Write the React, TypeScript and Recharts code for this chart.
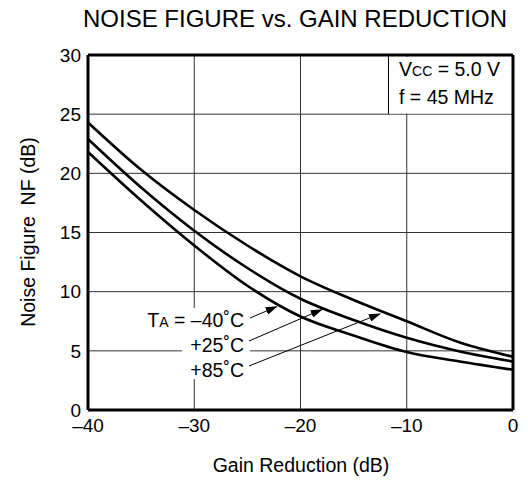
import React from "react";
import { LineChart, Line, XAxis, YAxis, CartesianGrid, ReferenceLine } from "recharts";

// ---- data ----
const gainReduction = [-40, -35, -30, -25, -20, -15, -10, -5, 0];
const nfPlus85 = [24.3, 20.3, 16.9, 13.9, 11.3, 9.3, 7.5, 5.7, 4.5];
const nfPlus25 = [22.9, 18.8, 15.15, 12.0, 9.4, 7.6, 6.1, 4.95, 4.1];
const nfMinus40 = [21.8, 17.7, 13.9, 10.5, 7.9, 6.3, 4.9, 4.1, 3.4];
const xTicks = [-40, -30, -20, -10, 0];
const yTicks = [0, 5, 10, 15, 20, 25, 30];
// arrow tips (data coordinates on each curve)
const arrowTips = [
  { label: "-40", x: -22.24, y: 8.73 },
  { label: "+25", x: -18.0, y: 8.49 },
  { label: "+85", x: -12.52, y: 8.13 },
];

const data = gainReduction.map((g, i) => ({
  g,
  p85: nfPlus85[i],
  p25: nfPlus25[i],
  m40: nfMinus40[i],
}));

const W = 528;
const H = 481;
const LEFT = 88;
const RIGHT = 513;
const TOP = 55;
const BOTTOM = 410;
const FONT = "'Liberation Sans', Arial, sans-serif";

const sx = (v: number) => LEFT + ((v + 40) / 40) * (RIGHT - LEFT);
const sy = (v: number) => BOTTOM - (v / 30) * (BOTTOM - TOP);

const fmt = (v: number) => String(v).replace("-", "\u2013");

export default function App() {
  const arrowStarts = [
    { x: 250, y: 318 },
    { x: 249, y: 341 },
    { x: 249, y: 366 },
  ];
  return (
    <div style={{ position: "absolute", left: 0, top: 0, width: W, height: H, background: "#fff" }}>
      <LineChart
        width={W}
        height={H}
        data={data}
        margin={{ top: TOP, right: W - RIGHT, bottom: 0, left: 0 }}
      >
        <CartesianGrid stroke="#333" strokeWidth={1} />
        <XAxis
          dataKey="g"
          type="number"
          domain={[-40, 0]}
          ticks={xTicks}
          tickFormatter={fmt}
          height={H - BOTTOM}
          axisLine={false}
          tickLine={false}
          tickSize={6}
          tickMargin={3}
          interval={0}
          tick={{ fill: "#000", fontSize: 19, fontFamily: FONT }}
        />
        <YAxis
          type="number"
          domain={[0, 30]}
          ticks={yTicks}
          width={LEFT}
          axisLine={false}
          tickLine={false}
          tickSize={6}
          tickMargin={1}
          interval={0}
          tick={{ fill: "#000", fontSize: 19, fontFamily: FONT }}
        />
        <Line type="monotone" dataKey="p85" stroke="#000" strokeWidth={2.6} dot={false} isAnimationActive={false} />
        <Line type="monotone" dataKey="p25" stroke="#000" strokeWidth={2.6} dot={false} isAnimationActive={false} />
        <Line type="monotone" dataKey="m40" stroke="#000" strokeWidth={2.6} dot={false} isAnimationActive={false} />
        <ReferenceLine x={-40} stroke="#000" strokeWidth={3} />
        <ReferenceLine x={0} stroke="#000" strokeWidth={3} />
        <ReferenceLine y={0} stroke="#000" strokeWidth={3} />
        <ReferenceLine y={30} stroke="#000" strokeWidth={3} />
      </LineChart>
      <svg
        width={W}
        height={H}
        style={{ position: "absolute", left: 0, top: 0, pointerEvents: "none" }}
        fontFamily={FONT}
      >
        <defs>
          <marker id="ah" markerWidth="12" markerHeight="8" refX="11" refY="4" orient="auto" markerUnits="userSpaceOnUse">
            <path d="M0,0 L12,4 L0,8 Z" fill="#000" />
          </marker>
        </defs>
        <text x={295} y={27} textAnchor="middle" fontSize={24} fill="#000">
          NOISE FIGURE vs. GAIN REDUCTION
        </text>
        <text
          x={0}
          y={0}
          transform={`translate(35, 232) rotate(-90)`}
          textAnchor="middle"
          fontSize={19.5}
          fill="#000"
          style={{ whiteSpace: "pre" }}
        >
          {"Noise Figure  NF (dB)"}
        </text>
        <text x={301} y={472} textAnchor="middle" fontSize={19.5} fill="#000">
          Gain Reduction (dB)
        </text>
        {/* annotation box */}
        <rect x={389} y={57} width={122} height={56.5} fill="#fff" />
        <line x1={388.5} y1={55} x2={388.5} y2={114} stroke="#000" strokeWidth={1} />
        <text x={399} y={76} fontSize={19.5} fill="#000">
          V<tspan fontSize={14}>CC</tspan> = 5.0 V
        </text>
        <text x={399} y={104} fontSize={19.5} fill="#000">
          f = 45 MHz
        </text>
        {/* temperature labels */}
        <rect x={146} y={308} width={104} height={23} fill="#fff" />
        <rect x={182} y={331} width={68} height={25} fill="#fff" />
        <rect x={182} y={356} width={68} height={23} fill="#fff" />
        <text x={244} y={326.5} textAnchor="end" fontSize={19.5} fill="#000">
          T<tspan fontSize={14}>A</tspan> = {"\u2013"}40{"\u02DA"}C
        </text>
        <text x={244} y={351.5} textAnchor="end" fontSize={19.5} fill="#000">
          +25{"\u02DA"}C
        </text>
        <text x={244} y={376.5} textAnchor="end" fontSize={19.5} fill="#000">
          +85{"\u02DA"}C
        </text>
        {arrowTips.map((t, i) => (
          <line
            key={t.label}
            x1={arrowStarts[i].x}
            y1={arrowStarts[i].y}
            x2={sx(t.x)}
            y2={sy(t.y)}
            stroke="#000"
            strokeWidth={1}
            markerEnd="url(#ah)"
          />
        ))}
      </svg>
    </div>
  );
}
